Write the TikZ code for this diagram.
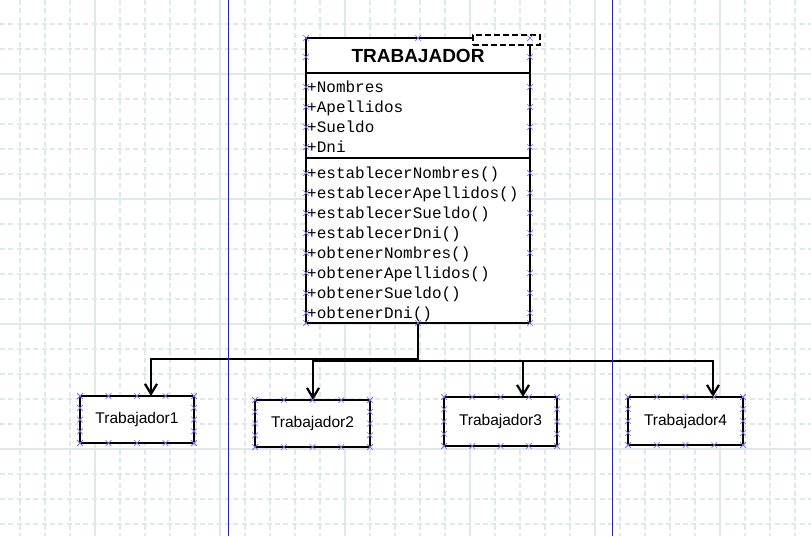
\documentclass[tikz,border=0pt]{standalone}
\usepackage{fontspec}
\setmainfont{Liberation Sans}
\setmonofont{Liberation Mono}
\usetikzlibrary{shapes, arrows.meta, calc}
\definecolor{gridc}{HTML}{DFE9E9}
\definecolor{guide}{HTML}{2323C2}
\definecolor{handleblue}{HTML}{7474E8}

\begin{document}
\begin{tikzpicture}[x=1pt, y=-1pt, >={Straight Barb[length=10pt,width=12pt]},
  clsbox/.style={draw, line width=2pt, fill=white, minimum width=224pt, inner sep=0pt, outer sep=0pt},
  objbox/.style={draw, line width=2.6pt, fill=white, inner sep=0pt, outer sep=0pt, font=\fontsize{15.5}{18}\selectfont},
  member/.style={anchor=base west, inner sep=0pt, font=\ttfamily\fontsize{16}{20}\selectfont},
  conn/.style={->, line width=2.2pt},
  hdl/.style={cross out, draw=handleblue, line width=0.7pt, minimum size=5pt, inner sep=0pt}]
\fill[white] (0,0) rectangle (811,536);
\useasboundingbox (0,0) rectangle (811,536);
\foreach \x in {20,45,...,795} \draw[gridc, line width=1.2pt, dash pattern=on 5pt off 3.33pt] (\x,0) -- (\x,536);
\foreach \y in {24,49,...,524} \draw[gridc, line width=1.2pt, dash pattern=on 5pt off 3.33pt] (0,\y) -- (811,\y);
\foreach \x in {95,220,...,720} \draw[gridc, line width=1.2pt] (\x,0) -- (\x,536);
\foreach \y in {74,199,324,449} \draw[gridc, line width=1.2pt] (0,\y) -- (811,\y);

\node[clsbox, minimum height=35pt, font=\bfseries\fontsize{19}{22}\selectfont] (title) at (418,55.5) {TRABAJADOR};
\node[clsbox, minimum height=85pt] (attrs) at (418,115.5) {};
\node[clsbox, minimum height=165pt] (meths) at (418,240.5) {};
\node[draw, dashed, dash pattern=on 6pt off 3pt, line width=1.6pt, fill=white, minimum width=67pt, minimum height=10pt, inner sep=0pt] (tpl) at (506.5,40) {};
\foreach \m [count=\i] in {Nombres,Apellidos,Sueldo,Dni}
  \node[member] (a\i) at (307,72+20*\i) {+\m};
\foreach \m [count=\i] in {establecerNombres(),establecerApellidos(),establecerSueldo(),establecerDni(),obtenerNombres(),obtenerApellidos(),obtenerSueldo(),obtenerDni()}
  \node[member] (m\i) at (307,158+20*\i) {+\m};

\node[objbox, minimum width=114pt, minimum height=47pt] (t1) at (137,419.5) {Trabajador1};
\node[objbox, minimum width=115pt, minimum height=47pt] (t2) at (312.5,423.5) {Trabajador2};
\node[objbox, minimum width=113pt, minimum height=49pt] (t3) at (500.5,421.5) {Trabajador3};
\node[objbox, minimum width=115pt, minimum height=48pt] (t4) at (685.5,421) {Trabajador4};

\draw[conn] (meths.south) -- ++(0,36) -| ([xshift=14pt]t1.north);
\draw[conn] (meths.south) -- ++(0,38) -| ([xshift=0.5pt]t2.north);
\draw[conn] (meths.south) -- ++(0,38) -| ([xshift=22.5pt]t3.north);
\draw[conn] (meths.south) -- ++(0,38) -| ([xshift=27.5pt]t4.north);

\draw[guide, line width=1.4pt] (228.5,0) -- (228.5,536);
\draw[guide, line width=1.4pt] (612.5,0) -- (612.5,536);

\foreach \y in {57,87,107,127,147,173,193,...,313} {
  \node[hdl] at (title.west |- 0,\y) {};
  \node[hdl] at (title.east |- 0,\y) {};
}
\foreach \a in {north west,north,north east} \node[hdl] at (title.\a) {};
\foreach \a in {south west,south,south east} \node[hdl] at (meths.\a) {};
\foreach \n in {t1,t2,t3,t4}
  \foreach \f in {0,0.25,0.5,0.75,1} {
    \node[hdl] at ($(\n.north west)!\f!(\n.north east)$) {};
    \node[hdl] at ($(\n.south west)!\f!(\n.south east)$) {};
    \node[hdl] at ($(\n.north west)!\f!(\n.south west)$) {};
    \node[hdl] at ($(\n.north east)!\f!(\n.south east)$) {};
  }
\end{tikzpicture}
\end{document}
